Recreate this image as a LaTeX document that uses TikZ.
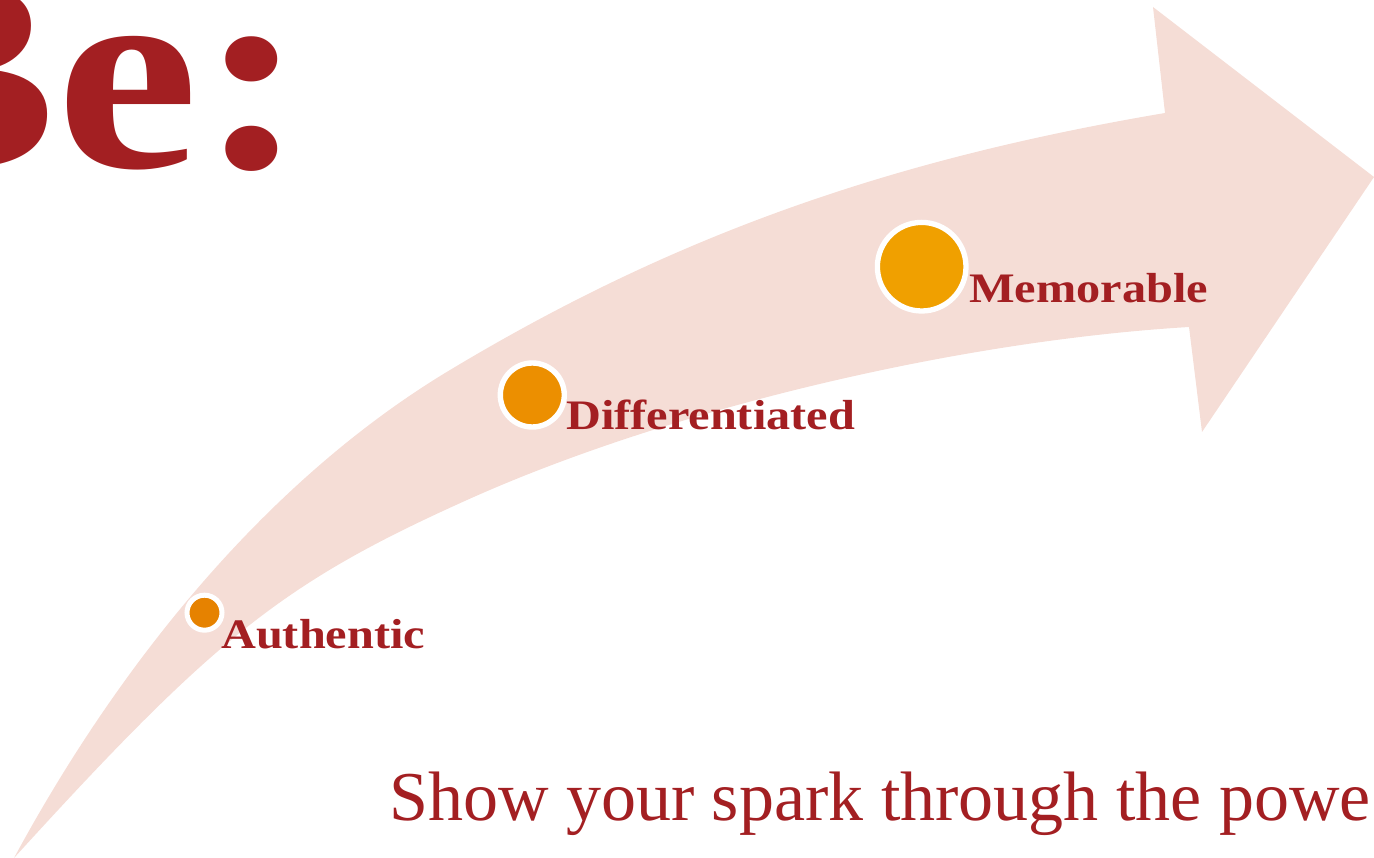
\documentclass[tikz,border=0pt]{standalone}
\usepackage{fontspec}
\setmainfont{Liberation Serif}
\newfontfamily\wideserif{Liberation Serif}[FakeStretch=1.15]
\usetikzlibrary{calc}

\definecolor{sparkred}{HTML}{A31F22}
\definecolor{bandpink}{HTML}{F5DDD6}
\definecolor{orangeA}{HTML}{E68200}
\definecolor{orangeB}{HTML}{EC8F00}
\definecolor{orangeC}{HTML}{F0A000}

\begin{document}
\begin{tikzpicture}[x=1pt, y=-1pt]
  \tikzstyle{band} = [fill=bandpink]
  \tikzstyle{dot} = [draw=white, circle, inner sep=0, line width=5pt]
  \tikzstyle{word} = [text=sparkred, font=\wideserif\bfseries\fontsize{42}{48}\selectfont,
                      anchor=base west, inner sep=0]
  \tikzstyle{title} = [text=sparkred, font=\wideserif\bfseries\fontsize{279}{300}\selectfont,
                       anchor=base east, inner sep=0]
  \tikzstyle{motto} = [text=sparkred, font=\fontsize{70}{80}\selectfont,
                       anchor=base west, inner sep=0]

%%%%%%%%%%%%%%%%%%%%%%%%%%%%%%%%%%%%%%%%%%%%%%%%%%%%%%%%%%%%%%%%%%%%%%%%%%%%%%%

\clip (0,0) rectangle (1374,858);

\coordinate (tail) at (14,858);
\coordinate (upper_mid) at (450,370);
\coordinate (barb_top) at (1165,113);
\coordinate (wing_top) at (1153,7);
\coordinate (tip) at (1374,177);
\coordinate (wing_bot) at (1202,432);
\coordinate (barb_bot) at (1189,327);
\coordinate (lower_mid) at (467,500);

\coordinate (auth_pose) at (204.5,612.7);
\coordinate (diff_pose) at (532.3,395);
\coordinate (memo_pose) at (921.7,266.7);

%%%%%%%%%%%%%%%%%%%%%%%%%%%%%%%%%%%%%%%%%%%%%%%%%%%%%%%%%%%%%%%%%%%%%%%%%%%%%%%

\fill[band] (tail) .. controls (122.6,657.1) and (271.5,477.1) .. (upper_mid)
  .. controls (670.8,237.4) and (885,160.3) .. (barb_top)
  -- (wing_top) -- (tip) -- (wing_bot) -- (barb_bot)
  .. controls (955.6,341) and (666.8,410) .. (lower_mid)
  .. controls (284,582.3) and (216,636) .. (tail) -- cycle;

%%%%%%%%%%%%%%%%%%%%%%%%%%%%%%%%%%%%%%%%%%%%%%%%%%%%%%%%%%%%%%%%%%%%%%%%%%%%%%%

\node[dot, fill=orangeA, minimum size=35pt] (auth) at (auth_pose) {};
\node[dot, fill=orangeB, minimum size=64pt, line width=5.4pt] (diff) at (diff_pose) {};
\node[dot, fill=orangeC, minimum size=88.6pt, line width=5.3pt] (memo) at (memo_pose) {};

\node[word] (auth_text) at (221,648) {Authentic};
\node[word] (diff_text) at (566,430) {Differentiated};
\node[word] (memo_text) at (969,303) {Memorable};

\node[title] (be) at (306,168) {Be:};
\node[motto] (spark) at (389,820) {Show your spark through the powe};

\end{tikzpicture}
\end{document}
